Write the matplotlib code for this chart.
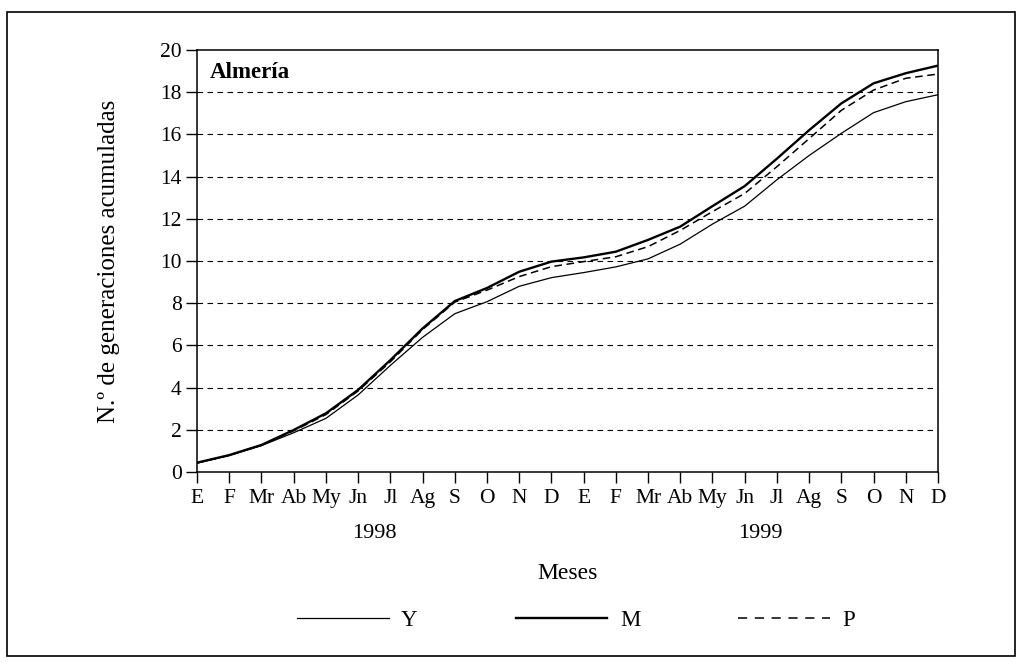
import matplotlib.pyplot as plt
from matplotlib.lines import Line2D
from matplotlib.patches import Rectangle
import matplotlib.transforms as mtransforms

plt.rcParams['font.family'] = ['Liberation Serif', 'DejaVu Serif']

# meses de 1998 y 1999
meses = ["E", "F", "Mr", "Ab", "My", "Jn", "Jl", "Ag", "S", "O", "N", "D"] * 2
anios = ["1998", "1999"]

# generaciones acumuladas
serie_y = [0.42, 0.78, 1.25, 1.86, 2.54, 3.65, 5.05, 6.38, 7.5, 8.07, 8.8, 9.21,
           9.45, 9.72, 10.1, 10.8, 11.75, 12.6, 13.85, 15.0, 16.05, 17.03, 17.55, 17.88]
serie_m = [0.44, 0.8, 1.28, 1.99, 2.78, 3.89, 5.3, 6.8, 8.1, 8.72, 9.49, 9.97,
           10.17, 10.44, 11.0, 11.63, 12.6, 13.55, 14.85, 16.2, 17.47, 18.42, 18.9, 19.26]
serie_p = [0.43, 0.79, 1.27, 1.95, 2.72, 3.84, 5.22, 6.75, 8.05, 8.62, 9.26, 9.73,
           9.97, 10.2, 10.68, 11.45, 12.34, 13.2, 14.47, 15.8, 17.14, 18.1, 18.66, 18.86]

x = list(range(len(meses)))

fig = plt.figure(figsize=(10.22, 6.64), dpi=100)
ax = fig.add_axes([0.1928, 0.2892, 0.7250, 0.6355])

ax.plot(x, serie_y, color='black', lw=0.9)
ax.plot(x, serie_m, color='black', lw=1.7)
ax.plot(x, serie_p, color='black', lw=1.1, dashes=(5, 3))

ax.set_xlim(0, 23)
ax.set_ylim(0, 20)
ax.set_xticks(x)
ax.set_xticklabels(meses)
ax.set_yticks(range(0, 21, 2))
ax.tick_params(direction='out', length=8, width=1, labelsize=15.5, colors='black')
ax.tick_params(axis='x', pad=4)
ax.tick_params(axis='y', pad=3)
for lado in ax.spines.values():
    lado.set_linewidth(1.1)

# lineas de rejilla discontinuas
for v in range(2, 20, 2):
    ax.axhline(v, color='black', lw=0.8, dashes=(5, 4), zorder=0)

ax.text(0.017, 0.947, "Almería", transform=ax.transAxes, fontsize=16.5,
        fontweight='bold', ha='left', va='center')

trans = mtransforms.blended_transform_factory(ax.transData, fig.transFigure)
ax.text(5.5, 0.196, anios[0], transform=trans, ha='center', va='center', fontsize=16)
ax.text(17.5, 0.196, anios[1], transform=trans, ha='center', va='center', fontsize=16)
ax.text(11.5, 0.137, "Meses", transform=trans, ha='center', va='center', fontsize=17)

fig.text(0.107, 0.607, "N.º de generaciones acumuladas", rotation=90,
         ha='center', va='center', fontsize=18)

handles = [Line2D([], [], color='black', lw=0.9),
           Line2D([], [], color='black', lw=1.7),
           Line2D([], [], color='black', lw=1.1, dashes=(6, 5))]
fig.legend(handles, ["Y", "M", "P"], loc='center', bbox_to_anchor=(0.5636, 0.066),
           ncol=3, frameon=False, fontsize=16.5, handlelength=4.0,
           handletextpad=0.55, columnspacing=4.27)

# marco exterior
fig.patches.append(Rectangle((0.007, 0.012), 0.986, 0.97, transform=fig.transFigure,
                             fill=False, edgecolor='black', lw=1.2))

fig.savefig("out.png", dpi=100)
